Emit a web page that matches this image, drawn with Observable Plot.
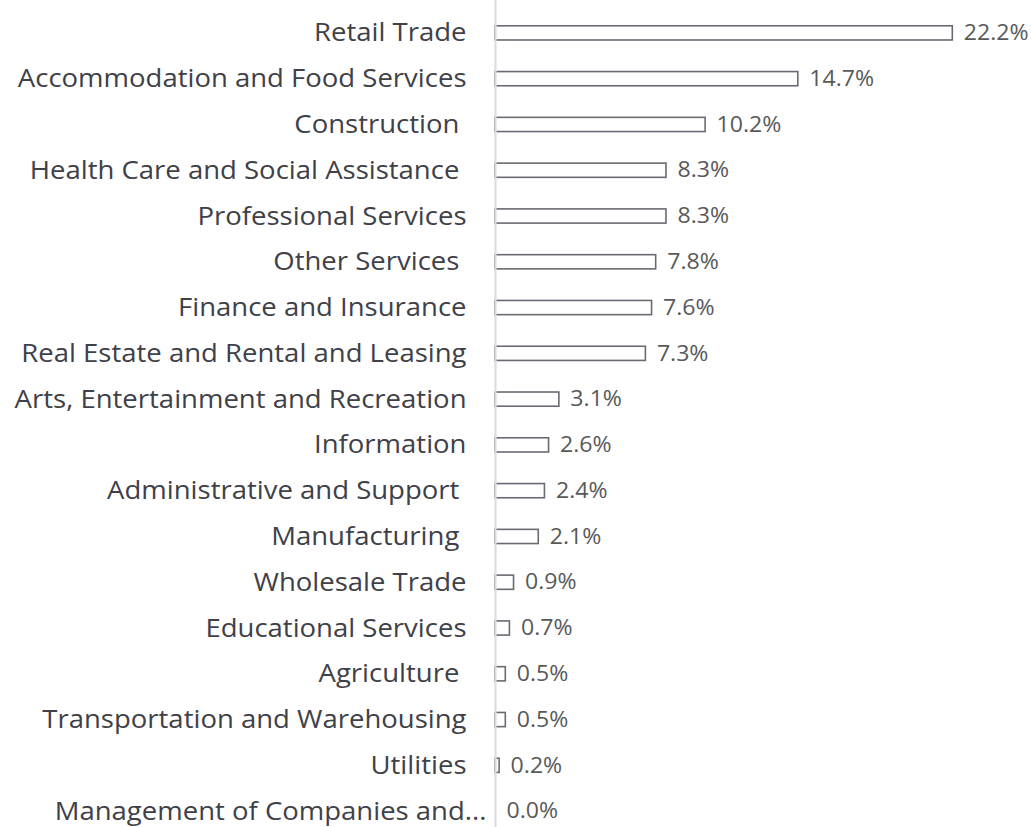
<!DOCTYPE html>
<html>
<head>
<meta charset="utf-8">
<script src="https://cdn.jsdelivr.net/npm/d3@7"></script>
<script src="https://cdn.jsdelivr.net/npm/@observablehq/plot@0.6"></script>
<style>
  html, body { margin: 0; padding: 0; background: #fff; }
  svg { display: block; }
  svg text { white-space: pre; }
</style>
</head>
<body>
<div id="chart"></div>
<script>
const categories = [
  "Retail Trade",
  "Accommodation and Food Services",
  "Construction",
  "Health Care and Social Assistance",
  "Professional Services",
  "Other Services",
  "Finance and Insurance",
  "Real Estate and Rental and Leasing",
  "Arts, Entertainment and Recreation",
  "Information",
  "Administrative and Support",
  "Manufacturing",
  "Wholesale Trade",
  "Educational Services",
  "Agriculture",
  "Transportation and Warehousing",
  "Utilities",
  "Management of Companies and..."
];
// tick labels as shown (some carry a trailing space in the source)
const tickLabels = [
  "Retail Trade",
  "Accommodation and Food Services",
  "Construction ",
  "Health Care and Social Assistance ",
  "Professional Services",
  "Other Services ",
  "Finance and Insurance",
  "Real Estate and Rental and Leasing",
  "Arts, Entertainment and Recreation",
  "Information",
  "Administrative and Support ",
  "Manufacturing ",
  "Wholesale Trade",
  "Educational Services",
  "Agriculture ",
  "Transportation and Warehousing",
  "Utilities",
  "Management of Companies and..."
];
const shares = [22.2, 14.7, 10.2, 8.3, 8.3, 7.8, 7.6, 7.3, 3.1, 2.6, 2.4, 2.1, 0.9, 0.7, 0.5, 0.5, 0.2, 0.0];

const data = categories.map((c, i) => ({category: c, value: shares[i]}));
const fmt = d => tickLabels[categories.indexOf(d)];
const lastCat = categories[categories.length - 1];

const chart = Plot.plot({
  width: 1031,
  height: 827,
  marginLeft: 495,
  marginRight: 21,
  marginTop: 0,
  marginBottom: 0,
  style: {fontFamily: "'Open Sans', sans-serif", background: "#fff"},
  x: {domain: [0, 25], axis: null},
  y: {domain: categories, range: [10, 834], paddingInner: 0.69, paddingOuter: 0.345, align: 0.5, round: false, label: null},
  marks: [
    Plot.barX(data, {x: "value", y: "category", fill: "white", stroke: "#6a6a74", strokeWidth: 1.6}),
    Plot.ruleX([0], {stroke: "#dcdcdc", strokeWidth: 2.2}),
    Plot.text(data, {x: "value", y: "category", text: d => d.value.toFixed(1) + "%", textAnchor: "start", dx: 11, fontSize: 21, fill: "#595959"}),
    Plot.axisY({ticks: categories.slice(0, -1), tickSize: 0, tickPadding: 29, fontSize: 25, color: "#404048", label: null, tickFormat: fmt}),
    Plot.axisY({ticks: [lastCat], tickSize: 0, tickPadding: 9, fontSize: 25, color: "#404048", label: null, tickFormat: fmt})
  ]
});
document.getElementById("chart").appendChild(chart);

// the reference's lettering is a little wider than Open Sans: stretch glyphs horizontally
chart.querySelectorAll("text").forEach(t => {
  const len = t.getComputedTextLength();
  if (len > 0) {
    t.setAttribute("textLength", (len * 1.1).toFixed(1));
    t.setAttribute("lengthAdjust", "spacingAndGlyphs");
  }
});
</script>
</body>
</html>
